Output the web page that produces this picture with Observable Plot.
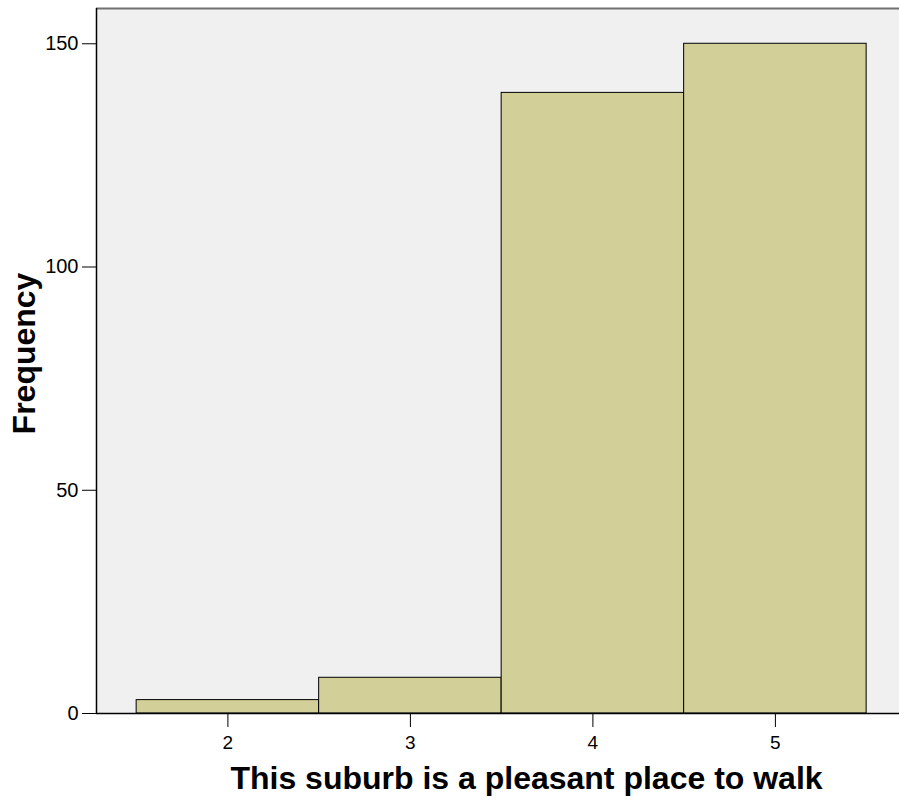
<!DOCTYPE html>
<html>
<head>
<meta charset="utf-8">
<script src="https://cdn.jsdelivr.net/npm/d3@7"></script>
<script src="https://cdn.jsdelivr.net/npm/@observablehq/plot@0.6"></script>
<style>
  html, body { margin: 0; padding: 0; background: #ffffff; }
  #chart svg { display: block; }
</style>
</head>
<body>
<div id="chart"></div>
<script>
// Data
const categories = [2, 3, 4, 5];
const frequencies = [3, 8, 139, 150];
const xTicks = [2, 3, 4, 5];
const yTicks = [0, 50, 100, 150];
const xLabel = "This suburb is a pleasant place to walk";
const yLabel = "Frequency";

const data = categories.map((c, i) => ({value: c, count: frequencies[i]}));

const xDomain = [1.28, 5.68];
const yDomain = [0, 157.9];

const font = "'Liberation Sans', Arial, sans-serif";

const chart = Plot.plot({
  width: 899,
  height: 805,
  marginLeft: 96,
  marginRight: 0,
  marginTop: 8,
  marginBottom: 92,
  style: {fontFamily: font, background: "#ffffff", color: "#000"},
  x: {domain: xDomain, ticks: xTicks},
  y: {domain: yDomain, ticks: yTicks},
  marks: [
    Plot.frame({fill: "#f0f0f0", stroke: null}),
    Plot.ruleY([yDomain[1]], {stroke: "#707070", strokeWidth: 2}),
    Plot.rectY(data, {
      x1: d => d.value - 0.5,
      x2: d => d.value + 0.5,
      y1: 0,
      y2: "count",
      fill: "#d3cf98",
      stroke: "#000",
      strokeWidth: 1
    }),
    Plot.ruleX([xDomain[0]], {stroke: "#000", strokeWidth: 1.5}),
    Plot.ruleY([0], {stroke: "#000", strokeWidth: 1.5}),
    Plot.axisX({
      ticks: xTicks,
      tickSize: 14,
      tickPadding: 8,
      tickFormat: d => String(d),
      fontSize: 19,
      label: null,
      stroke: "#000"
    }),
    Plot.axisY({
      ticks: yTicks,
      tickSize: 14,
      tickPadding: 4,
      tickFormat: d => String(d),
      fontSize: 20,
      label: null,
      stroke: "#000"
    }),
    Plot.text([xLabel], {
      frameAnchor: "bottom",
      text: d => d,
      textAnchor: "middle",
      lineAnchor: "middle",
      dy: 65.5,
      dx: 28.5,
      fontSize: 32,
      fontWeight: "bold",
      fill: "#000"
    }),
    Plot.text([yLabel], {
      frameAnchor: "left",
      text: d => d,
      textAnchor: "middle",
      lineAnchor: "middle",
      rotate: -90,
      dx: -72,
      dy: -7.5,
      fontSize: 32,
      fontWeight: "bold",
      fill: "#000"
    })
  ]
});

document.getElementById("chart").appendChild(chart);
</script>
</body>
</html>
